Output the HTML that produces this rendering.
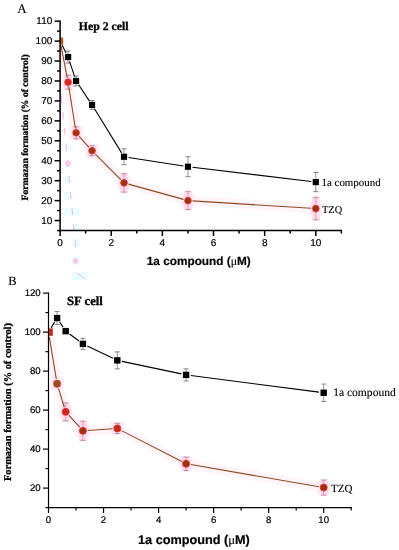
<!DOCTYPE html>
<html><head><meta charset="utf-8"><title>Formazan formation</title>
<style>
html,body{margin:0;padding:0;background:#fff}
svg{display:block;will-change:transform}
text{text-rendering:geometricPrecision}
.sans{font-family:"Liberation Sans",Arial,sans-serif;fill:#000;stroke:#000;stroke-width:0.2px}
.serif{font-family:"Liberation Serif","Times New Roman",serif;fill:#000}
.b{font-weight:bold}
.serif{stroke:#000;stroke-width:0.12px}
.serif.b{stroke-width:0.3px}
</style></head><body>
<svg width="399" height="550" viewBox="0 0 399 550">
<rect width="399" height="550" fill="#fff"/>
<rect x="64.5" y="144" width="7" height="7.5" fill="#e9feff"/>
<rect x="64.5" y="160.5" width="7" height="7" fill="#e9feff"/>
<rect x="64.5" y="176" width="7" height="7.5" fill="#e9feff"/>
<rect x="64" y="192" width="7.4" height="8" fill="#e9feff"/>
<rect x="64" y="208" width="15.5" height="8" fill="#e9feff"/>
<rect x="72" y="224.5" width="7.5" height="6.5" fill="#e9feff"/>
<rect x="72" y="239" width="7.5" height="8" fill="#e9feff"/>
<rect x="72" y="256.4" width="7.5" height="8" fill="#e9feff"/>
<rect x="72" y="272" width="15.7" height="8" fill="#e9feff"/>
<line x1="61.3" y1="96" x2="76" y2="250" stroke="#ff8fdc" stroke-width="1" opacity="0.7" stroke-dasharray="7 9.07"/>
<line x1="77" y1="273" x2="85.3" y2="279.3" stroke="#ff8fdc" stroke-width="1" opacity="0.7"/>
<circle cx="68" cy="163.5" r="2.7" fill="#ffc4ee"/>
<circle cx="75.5" cy="261" r="2.7" fill="#ffc4ee"/>
<polyline points="60.1,41.1 68.1,82.2 76.1,132.8 92.1,150.8 124.0,182.9 187.9,200.6 315.8,208.6" fill="none" stroke="#fff4fa" stroke-width="10" stroke-linejoin="round"/>
<rect x="61.6" y="75.7" width="13" height="13" fill="#ffebf5"/>
<rect x="64.1" y="74.2" width="8" height="16.0" fill="#ffdcf0"/>
<rect x="69.6" y="126.3" width="13" height="13" fill="#ffebf5"/>
<rect x="72.1" y="125.8" width="8" height="14.0" fill="#ffdcf0"/>
<rect x="85.6" y="144.3" width="13" height="13" fill="#ffebf5"/>
<rect x="88.1" y="144.8" width="8" height="12.0" fill="#ffdcf0"/>
<rect x="117.5" y="176.4" width="13" height="13" fill="#ffebf5"/>
<rect x="120.0" y="172.7" width="8" height="20.3" fill="#ffdcf0"/>
<rect x="181.4" y="194.1" width="13" height="13" fill="#ffebf5"/>
<rect x="183.9" y="190.6" width="8" height="19.9" fill="#ffdcf0"/>
<rect x="309.3" y="202.1" width="13" height="13" fill="#ffebf5"/>
<rect x="311.8" y="196.4" width="8" height="24.3" fill="#ffdcf0"/>
<line x1="68.09" y1="51.07" x2="68.09" y2="63.03" stroke="#777" stroke-width="0.8"/>
<line x1="65.59" y1="51.07" x2="70.59" y2="51.07" stroke="#777" stroke-width="0.9"/>
<line x1="65.59" y1="63.03" x2="70.59" y2="63.03" stroke="#777" stroke-width="0.9"/>
<line x1="76.08" y1="76.00" x2="76.08" y2="85.97" stroke="#777" stroke-width="0.8"/>
<line x1="73.58" y1="76.00" x2="78.58" y2="76.00" stroke="#777" stroke-width="0.9"/>
<line x1="73.58" y1="85.97" x2="78.58" y2="85.97" stroke="#777" stroke-width="0.9"/>
<line x1="92.06" y1="100.52" x2="92.06" y2="109.29" stroke="#777" stroke-width="0.8"/>
<line x1="89.56" y1="100.52" x2="94.56" y2="100.52" stroke="#777" stroke-width="0.9"/>
<line x1="89.56" y1="109.29" x2="94.56" y2="109.29" stroke="#777" stroke-width="0.9"/>
<line x1="124.03" y1="148.78" x2="124.03" y2="164.73" stroke="#777" stroke-width="0.8"/>
<line x1="121.53" y1="148.78" x2="126.53" y2="148.78" stroke="#777" stroke-width="0.9"/>
<line x1="121.53" y1="164.73" x2="126.53" y2="164.73" stroke="#777" stroke-width="0.9"/>
<line x1="187.95" y1="156.75" x2="187.95" y2="176.69" stroke="#777" stroke-width="0.8"/>
<line x1="185.45" y1="156.75" x2="190.45" y2="156.75" stroke="#777" stroke-width="0.9"/>
<line x1="185.45" y1="176.69" x2="190.45" y2="176.69" stroke="#777" stroke-width="0.9"/>
<line x1="315.80" y1="172.50" x2="315.80" y2="191.65" stroke="#777" stroke-width="0.8"/>
<line x1="313.30" y1="172.50" x2="318.30" y2="172.50" stroke="#777" stroke-width="0.9"/>
<line x1="313.30" y1="191.65" x2="318.30" y2="191.65" stroke="#777" stroke-width="0.9"/>
<line x1="68.09" y1="75.20" x2="68.09" y2="89.16" stroke="#f08098" stroke-width="0.8"/>
<line x1="65.59" y1="75.20" x2="70.59" y2="75.20" stroke="#b09090" stroke-width="0.9"/>
<line x1="65.59" y1="89.16" x2="70.59" y2="89.16" stroke="#b09090" stroke-width="0.9"/>
<line x1="76.08" y1="126.84" x2="76.08" y2="138.81" stroke="#f08098" stroke-width="0.8"/>
<line x1="73.58" y1="126.84" x2="78.58" y2="126.84" stroke="#b09090" stroke-width="0.9"/>
<line x1="73.58" y1="138.81" x2="78.58" y2="138.81" stroke="#b09090" stroke-width="0.9"/>
<line x1="92.06" y1="145.78" x2="92.06" y2="155.75" stroke="#f08098" stroke-width="0.8"/>
<line x1="89.56" y1="145.78" x2="94.56" y2="145.78" stroke="#b09090" stroke-width="0.9"/>
<line x1="89.56" y1="155.75" x2="94.56" y2="155.75" stroke="#b09090" stroke-width="0.9"/>
<line x1="124.03" y1="173.70" x2="124.03" y2="192.05" stroke="#f08098" stroke-width="0.8"/>
<line x1="121.53" y1="173.70" x2="126.53" y2="173.70" stroke="#b09090" stroke-width="0.9"/>
<line x1="121.53" y1="192.05" x2="126.53" y2="192.05" stroke="#b09090" stroke-width="0.9"/>
<line x1="187.95" y1="191.65" x2="187.95" y2="209.59" stroke="#f08098" stroke-width="0.8"/>
<line x1="185.45" y1="191.65" x2="190.45" y2="191.65" stroke="#b09090" stroke-width="0.9"/>
<line x1="185.45" y1="209.59" x2="190.45" y2="209.59" stroke="#b09090" stroke-width="0.9"/>
<line x1="315.80" y1="197.43" x2="315.80" y2="219.76" stroke="#f08098" stroke-width="0.8"/>
<line x1="313.30" y1="197.43" x2="318.30" y2="197.43" stroke="#b09090" stroke-width="0.9"/>
<line x1="313.30" y1="219.76" x2="318.30" y2="219.76" stroke="#b09090" stroke-width="0.9"/>
<line x1="62.16" y1="45.21" x2="66.03" y2="52.94" stroke="#000" stroke-width="1.1"/>
<line x1="69.55" y1="61.42" x2="74.62" y2="76.62" stroke="#000" stroke-width="1.1"/>
<line x1="78.64" y1="84.81" x2="89.51" y2="101.08" stroke="#000" stroke-width="1.1"/>
<line x1="94.48" y1="108.82" x2="121.61" y2="152.84" stroke="#000" stroke-width="1.1"/>
<line x1="128.57" y1="157.46" x2="183.40" y2="166.01" stroke="#000" stroke-width="1.1"/>
<line x1="192.52" y1="167.27" x2="311.23" y2="181.53" stroke="#000" stroke-width="1.1"/>
<line x1="60.98" y1="45.62" x2="67.21" y2="77.66" stroke="#91491f" stroke-width="1.1"/>
<line x1="68.81" y1="86.72" x2="75.36" y2="128.28" stroke="#91491f" stroke-width="1.1"/>
<line x1="79.14" y1="136.26" x2="89.00" y2="147.33" stroke="#91491f" stroke-width="1.1"/>
<line x1="95.31" y1="154.03" x2="120.78" y2="179.61" stroke="#91491f" stroke-width="1.1"/>
<line x1="128.46" y1="184.10" x2="183.52" y2="199.39" stroke="#91491f" stroke-width="1.1"/>
<line x1="192.54" y1="200.91" x2="311.21" y2="208.31" stroke="#91491f" stroke-width="1.1"/>
<rect x="64.99" y="53.95" width="6.2" height="6.2" fill="#000"/>
<rect x="72.98" y="77.88" width="6.2" height="6.2" fill="#000"/>
<rect x="88.96" y="101.81" width="6.2" height="6.2" fill="#000"/>
<rect x="120.93" y="153.65" width="6.2" height="6.2" fill="#000"/>
<rect x="184.85" y="163.62" width="6.2" height="6.2" fill="#000"/>
<rect x="312.70" y="178.98" width="6.2" height="6.2" fill="#000"/>
<circle cx="68.09" cy="82.18" r="3.3" fill="#dc2a1c" stroke="#e23030" stroke-width="0.9"/>
<circle cx="76.08" cy="132.82" r="3.3" fill="#9c3410" stroke="#e23030" stroke-width="0.9"/>
<circle cx="92.06" cy="150.77" r="3.3" fill="#9c3410" stroke="#e23030" stroke-width="0.9"/>
<circle cx="124.03" cy="182.87" r="3.3" fill="#9c3410" stroke="#e23030" stroke-width="0.9"/>
<circle cx="187.95" cy="200.62" r="3.3" fill="#9c3410" stroke="#e23030" stroke-width="0.9"/>
<circle cx="315.80" cy="208.60" r="3.3" fill="#9c3410" stroke="#e23030" stroke-width="0.9"/>
<rect x="60.10" y="37.50" width="3.10" height="7.2" fill="#b8591c"/>
<line x1="60.10" y1="20.41" x2="60.10" y2="231.28" stroke="#000" stroke-width="1.5"/>
<line x1="59.35" y1="230.53" x2="342.12" y2="230.53" stroke="#000" stroke-width="1.5"/>
<line x1="54.60" y1="220.56" x2="60.10" y2="220.56" stroke="#000" stroke-width="1.5"/>
<text x="52.30" y="223.74" font-size="10.0" text-anchor="end" class="sans">10</text>
<line x1="57.10" y1="210.59" x2="60.10" y2="210.59" stroke="#000" stroke-width="1.5"/>
<line x1="54.60" y1="200.62" x2="60.10" y2="200.62" stroke="#000" stroke-width="1.5"/>
<text x="52.30" y="203.80" font-size="10.0" text-anchor="end" class="sans">20</text>
<line x1="57.10" y1="190.65" x2="60.10" y2="190.65" stroke="#000" stroke-width="1.5"/>
<line x1="54.60" y1="180.68" x2="60.10" y2="180.68" stroke="#000" stroke-width="1.5"/>
<text x="52.30" y="183.86" font-size="10.0" text-anchor="end" class="sans">30</text>
<line x1="57.10" y1="170.71" x2="60.10" y2="170.71" stroke="#000" stroke-width="1.5"/>
<line x1="54.60" y1="160.74" x2="60.10" y2="160.74" stroke="#000" stroke-width="1.5"/>
<text x="52.30" y="163.92" font-size="10.0" text-anchor="end" class="sans">40</text>
<line x1="57.10" y1="150.77" x2="60.10" y2="150.77" stroke="#000" stroke-width="1.5"/>
<line x1="54.60" y1="140.80" x2="60.10" y2="140.80" stroke="#000" stroke-width="1.5"/>
<text x="52.30" y="143.98" font-size="10.0" text-anchor="end" class="sans">50</text>
<line x1="57.10" y1="130.83" x2="60.10" y2="130.83" stroke="#000" stroke-width="1.5"/>
<line x1="54.60" y1="120.86" x2="60.10" y2="120.86" stroke="#000" stroke-width="1.5"/>
<text x="52.30" y="124.04" font-size="10.0" text-anchor="end" class="sans">60</text>
<line x1="57.10" y1="110.89" x2="60.10" y2="110.89" stroke="#000" stroke-width="1.5"/>
<line x1="54.60" y1="100.92" x2="60.10" y2="100.92" stroke="#000" stroke-width="1.5"/>
<text x="52.30" y="104.10" font-size="10.0" text-anchor="end" class="sans">70</text>
<line x1="57.10" y1="90.95" x2="60.10" y2="90.95" stroke="#000" stroke-width="1.5"/>
<line x1="54.60" y1="80.98" x2="60.10" y2="80.98" stroke="#000" stroke-width="1.5"/>
<text x="52.30" y="84.16" font-size="10.0" text-anchor="end" class="sans">80</text>
<line x1="57.10" y1="71.01" x2="60.10" y2="71.01" stroke="#000" stroke-width="1.5"/>
<line x1="54.60" y1="61.04" x2="60.10" y2="61.04" stroke="#000" stroke-width="1.5"/>
<text x="52.30" y="64.22" font-size="10.0" text-anchor="end" class="sans">90</text>
<line x1="57.10" y1="51.07" x2="60.10" y2="51.07" stroke="#000" stroke-width="1.5"/>
<line x1="54.60" y1="41.10" x2="60.10" y2="41.10" stroke="#000" stroke-width="1.5"/>
<text x="52.30" y="44.28" font-size="10.0" text-anchor="end" class="sans">100</text>
<line x1="57.10" y1="31.13" x2="60.10" y2="31.13" stroke="#000" stroke-width="1.5"/>
<line x1="54.60" y1="21.16" x2="60.10" y2="21.16" stroke="#000" stroke-width="1.5"/>
<text x="52.30" y="24.34" font-size="10.0" text-anchor="end" class="sans">110</text>
<line x1="57.10" y1="230.53" x2="60.10" y2="230.53" stroke="#000" stroke-width="1.5"/>
<line x1="60.10" y1="230.53" x2="60.10" y2="236.03" stroke="#000" stroke-width="1.5"/>
<text x="60.10" y="246.13" font-size="10.0" text-anchor="middle" class="sans">0</text>
<line x1="85.67" y1="230.53" x2="85.67" y2="233.53" stroke="#000" stroke-width="1.5"/>
<line x1="111.24" y1="230.53" x2="111.24" y2="236.03" stroke="#000" stroke-width="1.5"/>
<text x="111.24" y="246.13" font-size="10.0" text-anchor="middle" class="sans">2</text>
<line x1="136.81" y1="230.53" x2="136.81" y2="233.53" stroke="#000" stroke-width="1.5"/>
<line x1="162.38" y1="230.53" x2="162.38" y2="236.03" stroke="#000" stroke-width="1.5"/>
<text x="162.38" y="246.13" font-size="10.0" text-anchor="middle" class="sans">4</text>
<line x1="187.95" y1="230.53" x2="187.95" y2="233.53" stroke="#000" stroke-width="1.5"/>
<line x1="213.52" y1="230.53" x2="213.52" y2="236.03" stroke="#000" stroke-width="1.5"/>
<text x="213.52" y="246.13" font-size="10.0" text-anchor="middle" class="sans">6</text>
<line x1="239.09" y1="230.53" x2="239.09" y2="233.53" stroke="#000" stroke-width="1.5"/>
<line x1="264.66" y1="230.53" x2="264.66" y2="236.03" stroke="#000" stroke-width="1.5"/>
<text x="264.66" y="246.13" font-size="10.0" text-anchor="middle" class="sans">8</text>
<line x1="290.23" y1="230.53" x2="290.23" y2="233.53" stroke="#000" stroke-width="1.5"/>
<line x1="315.80" y1="230.53" x2="315.80" y2="236.03" stroke="#000" stroke-width="1.5"/>
<text x="315.80" y="246.13" font-size="10.0" text-anchor="middle" class="sans">10</text>
<line x1="341.37" y1="230.53" x2="341.37" y2="233.53" stroke="#000" stroke-width="1.5"/>
<polyline points="48.5,332.1 57.1,383.8 65.7,411.9 82.9,430.8 117.3,428.4 186.1,463.7 323.7,487.6" fill="none" stroke="#fff4fa" stroke-width="10" stroke-linejoin="round"/>
<rect x="50.6" y="377.3" width="13" height="13" fill="#ffebf5"/>
<rect x="53.1" y="379.9" width="8" height="7.8" fill="#ffdcf0"/>
<rect x="59.2" y="405.4" width="13" height="13" fill="#ffebf5"/>
<rect x="61.7" y="401.9" width="8" height="19.9" fill="#ffdcf0"/>
<rect x="76.4" y="424.3" width="13" height="13" fill="#ffebf5"/>
<rect x="78.9" y="420.2" width="8" height="21.1" fill="#ffdcf0"/>
<rect x="110.8" y="421.9" width="13" height="13" fill="#ffebf5"/>
<rect x="113.3" y="422.4" width="8" height="12.1" fill="#ffdcf0"/>
<rect x="179.6" y="457.2" width="13" height="13" fill="#ffebf5"/>
<rect x="182.1" y="456.1" width="8" height="15.3" fill="#ffdcf0"/>
<rect x="317.2" y="481.1" width="13" height="13" fill="#ffebf5"/>
<rect x="319.7" y="479.1" width="8" height="17.0" fill="#ffdcf0"/>
<line x1="57.10" y1="311.57" x2="57.10" y2="324.55" stroke="#777" stroke-width="0.8"/>
<line x1="54.60" y1="311.57" x2="59.60" y2="311.57" stroke="#777" stroke-width="0.9"/>
<line x1="54.60" y1="324.55" x2="59.60" y2="324.55" stroke="#777" stroke-width="0.9"/>
<line x1="65.70" y1="329.18" x2="65.70" y2="333.08" stroke="#777" stroke-width="0.8"/>
<line x1="63.20" y1="329.18" x2="68.20" y2="329.18" stroke="#777" stroke-width="0.9"/>
<line x1="63.20" y1="333.08" x2="68.20" y2="333.08" stroke="#777" stroke-width="0.9"/>
<line x1="82.90" y1="338.44" x2="82.90" y2="349.36" stroke="#777" stroke-width="0.8"/>
<line x1="80.40" y1="338.44" x2="85.40" y2="338.44" stroke="#777" stroke-width="0.9"/>
<line x1="80.40" y1="349.36" x2="85.40" y2="349.36" stroke="#777" stroke-width="0.9"/>
<line x1="117.30" y1="351.87" x2="117.30" y2="368.88" stroke="#777" stroke-width="0.8"/>
<line x1="114.80" y1="351.87" x2="119.80" y2="351.87" stroke="#777" stroke-width="0.9"/>
<line x1="114.80" y1="368.88" x2="119.80" y2="368.88" stroke="#777" stroke-width="0.9"/>
<line x1="186.10" y1="368.86" x2="186.10" y2="380.95" stroke="#777" stroke-width="0.8"/>
<line x1="183.60" y1="368.86" x2="188.60" y2="368.86" stroke="#777" stroke-width="0.9"/>
<line x1="183.60" y1="380.95" x2="188.60" y2="380.95" stroke="#777" stroke-width="0.9"/>
<line x1="323.70" y1="384.05" x2="323.70" y2="401.44" stroke="#777" stroke-width="0.8"/>
<line x1="321.20" y1="384.05" x2="326.20" y2="384.05" stroke="#777" stroke-width="0.9"/>
<line x1="321.20" y1="401.44" x2="326.20" y2="401.44" stroke="#777" stroke-width="0.9"/>
<line x1="57.10" y1="380.85" x2="57.10" y2="386.70" stroke="#f08098" stroke-width="0.8"/>
<line x1="54.60" y1="380.85" x2="59.60" y2="380.85" stroke="#b09090" stroke-width="0.9"/>
<line x1="54.60" y1="386.70" x2="59.60" y2="386.70" stroke="#b09090" stroke-width="0.9"/>
<line x1="65.70" y1="402.88" x2="65.70" y2="420.83" stroke="#f08098" stroke-width="0.8"/>
<line x1="63.20" y1="402.88" x2="68.20" y2="402.88" stroke="#b09090" stroke-width="0.9"/>
<line x1="63.20" y1="420.83" x2="68.20" y2="420.83" stroke="#b09090" stroke-width="0.9"/>
<line x1="82.90" y1="421.22" x2="82.90" y2="440.33" stroke="#f08098" stroke-width="0.8"/>
<line x1="80.40" y1="421.22" x2="85.40" y2="421.22" stroke="#b09090" stroke-width="0.9"/>
<line x1="80.40" y1="440.33" x2="85.40" y2="440.33" stroke="#b09090" stroke-width="0.9"/>
<line x1="117.30" y1="423.36" x2="117.30" y2="433.50" stroke="#f08098" stroke-width="0.8"/>
<line x1="114.80" y1="423.36" x2="119.80" y2="423.36" stroke="#b09090" stroke-width="0.9"/>
<line x1="114.80" y1="433.50" x2="119.80" y2="433.50" stroke="#b09090" stroke-width="0.9"/>
<line x1="186.10" y1="457.10" x2="186.10" y2="470.36" stroke="#f08098" stroke-width="0.8"/>
<line x1="183.60" y1="457.10" x2="188.60" y2="457.10" stroke="#b09090" stroke-width="0.9"/>
<line x1="183.60" y1="470.36" x2="188.60" y2="470.36" stroke="#b09090" stroke-width="0.9"/>
<line x1="323.70" y1="480.09" x2="323.70" y2="495.10" stroke="#f08098" stroke-width="0.8"/>
<line x1="321.20" y1="480.09" x2="326.20" y2="480.09" stroke="#b09090" stroke-width="0.9"/>
<line x1="321.20" y1="495.10" x2="326.20" y2="495.10" stroke="#b09090" stroke-width="0.9"/>
<line x1="51.01" y1="328.01" x2="54.59" y2="322.15" stroke="#000" stroke-width="1.1"/>
<line x1="59.74" y1="322.07" x2="63.06" y2="327.12" stroke="#000" stroke-width="1.1"/>
<line x1="69.55" y1="333.99" x2="79.05" y2="341.04" stroke="#000" stroke-width="1.1"/>
<line x1="87.23" y1="345.97" x2="112.97" y2="358.30" stroke="#000" stroke-width="1.1"/>
<line x1="122.00" y1="361.37" x2="181.40" y2="373.91" stroke="#000" stroke-width="1.1"/>
<line x1="190.86" y1="375.52" x2="318.94" y2="392.13" stroke="#000" stroke-width="1.1"/>
<line x1="49.29" y1="336.83" x2="56.31" y2="379.04" stroke="#91491f" stroke-width="1.1"/>
<line x1="58.51" y1="388.36" x2="64.29" y2="407.27" stroke="#91491f" stroke-width="1.1"/>
<line x1="68.93" y1="415.41" x2="79.67" y2="427.22" stroke="#91491f" stroke-width="1.1"/>
<line x1="87.69" y1="430.44" x2="112.51" y2="428.76" stroke="#91491f" stroke-width="1.1"/>
<line x1="121.57" y1="430.62" x2="181.83" y2="461.53" stroke="#91491f" stroke-width="1.1"/>
<line x1="190.83" y1="464.55" x2="318.97" y2="486.77" stroke="#91491f" stroke-width="1.1"/>
<rect x="53.90" y="314.86" width="6.4" height="6.4" fill="#000"/>
<rect x="62.50" y="327.93" width="6.4" height="6.4" fill="#000"/>
<rect x="79.70" y="340.70" width="6.4" height="6.4" fill="#000"/>
<rect x="114.10" y="357.18" width="6.4" height="6.4" fill="#000"/>
<rect x="182.90" y="371.70" width="6.4" height="6.4" fill="#000"/>
<rect x="320.50" y="389.55" width="6.4" height="6.4" fill="#000"/>
<circle cx="57.10" cy="383.78" r="3.5" fill="#8c5418" stroke="#e23030" stroke-width="0.9"/>
<circle cx="65.70" cy="411.86" r="3.5" fill="#cf2418" stroke="#e23030" stroke-width="0.9"/>
<circle cx="82.90" cy="430.77" r="3.5" fill="#9c3410" stroke="#e23030" stroke-width="0.9"/>
<circle cx="117.30" cy="428.43" r="3.5" fill="#c42a14" stroke="#e23030" stroke-width="0.9"/>
<circle cx="186.10" cy="463.73" r="3.5" fill="#9c3410" stroke="#e23030" stroke-width="0.9"/>
<circle cx="323.70" cy="487.59" r="3.5" fill="#9c3410" stroke="#e23030" stroke-width="0.9"/>
<rect x="48.50" y="328.40" width="4.30" height="7.4" fill="#c2300f"/>
<line x1="48.50" y1="292.50" x2="48.50" y2="508.20" stroke="#000" stroke-width="1.2"/>
<line x1="47.90" y1="507.60" x2="351.82" y2="507.60" stroke="#000" stroke-width="1.2"/>
<line x1="43.00" y1="488.10" x2="48.50" y2="488.10" stroke="#000" stroke-width="1.2"/>
<text x="40.70" y="491.14" font-size="9.6" text-anchor="end" class="sans">20</text>
<line x1="45.50" y1="468.60" x2="48.50" y2="468.60" stroke="#000" stroke-width="1.2"/>
<line x1="43.00" y1="449.10" x2="48.50" y2="449.10" stroke="#000" stroke-width="1.2"/>
<text x="40.70" y="452.14" font-size="9.6" text-anchor="end" class="sans">40</text>
<line x1="45.50" y1="429.60" x2="48.50" y2="429.60" stroke="#000" stroke-width="1.2"/>
<line x1="43.00" y1="410.10" x2="48.50" y2="410.10" stroke="#000" stroke-width="1.2"/>
<text x="40.70" y="413.14" font-size="9.6" text-anchor="end" class="sans">60</text>
<line x1="45.50" y1="390.60" x2="48.50" y2="390.60" stroke="#000" stroke-width="1.2"/>
<line x1="43.00" y1="371.10" x2="48.50" y2="371.10" stroke="#000" stroke-width="1.2"/>
<text x="40.70" y="374.14" font-size="9.6" text-anchor="end" class="sans">80</text>
<line x1="45.50" y1="351.60" x2="48.50" y2="351.60" stroke="#000" stroke-width="1.2"/>
<line x1="43.00" y1="332.10" x2="48.50" y2="332.10" stroke="#000" stroke-width="1.2"/>
<text x="40.70" y="335.14" font-size="9.6" text-anchor="end" class="sans">100</text>
<line x1="45.50" y1="312.60" x2="48.50" y2="312.60" stroke="#000" stroke-width="1.2"/>
<line x1="43.00" y1="293.10" x2="48.50" y2="293.10" stroke="#000" stroke-width="1.2"/>
<text x="40.70" y="296.14" font-size="9.6" text-anchor="end" class="sans">120</text>
<line x1="45.50" y1="507.60" x2="48.50" y2="507.60" stroke="#000" stroke-width="1.2"/>
<line x1="48.50" y1="507.60" x2="48.50" y2="513.10" stroke="#000" stroke-width="1.2"/>
<text x="48.50" y="523.40" font-size="9.6" text-anchor="middle" class="sans">0</text>
<line x1="76.02" y1="507.60" x2="76.02" y2="510.60" stroke="#000" stroke-width="1.2"/>
<line x1="103.54" y1="507.60" x2="103.54" y2="513.10" stroke="#000" stroke-width="1.2"/>
<text x="103.54" y="523.40" font-size="9.6" text-anchor="middle" class="sans">2</text>
<line x1="131.06" y1="507.60" x2="131.06" y2="510.60" stroke="#000" stroke-width="1.2"/>
<line x1="158.58" y1="507.60" x2="158.58" y2="513.10" stroke="#000" stroke-width="1.2"/>
<text x="158.58" y="523.40" font-size="9.6" text-anchor="middle" class="sans">4</text>
<line x1="186.10" y1="507.60" x2="186.10" y2="510.60" stroke="#000" stroke-width="1.2"/>
<line x1="213.62" y1="507.60" x2="213.62" y2="513.10" stroke="#000" stroke-width="1.2"/>
<text x="213.62" y="523.40" font-size="9.6" text-anchor="middle" class="sans">6</text>
<line x1="241.14" y1="507.60" x2="241.14" y2="510.60" stroke="#000" stroke-width="1.2"/>
<line x1="268.66" y1="507.60" x2="268.66" y2="513.10" stroke="#000" stroke-width="1.2"/>
<text x="268.66" y="523.40" font-size="9.6" text-anchor="middle" class="sans">8</text>
<line x1="296.18" y1="507.60" x2="296.18" y2="510.60" stroke="#000" stroke-width="1.2"/>
<line x1="323.70" y1="507.60" x2="323.70" y2="513.10" stroke="#000" stroke-width="1.2"/>
<text x="323.70" y="523.40" font-size="9.6" text-anchor="middle" class="sans">10</text>
<line x1="351.22" y1="507.60" x2="351.22" y2="510.60" stroke="#000" stroke-width="1.2"/>
<text x="17.3" y="13.2" font-size="13" class="serif">A</text>
<text x="8.2" y="285.4" font-size="12.5" class="serif">B</text>
<text x="78.8" y="30" font-size="11.8" class="serif b">Hep 2 cell</text>
<text x="67" y="305" font-size="12.7" class="serif b">SF cell</text>
<text x="321.6" y="186.4" font-size="10.9" class="serif">1a compound</text>
<text x="322" y="212.6" font-size="10.4" class="serif">TZQ</text>
<text x="333.2" y="396.3" font-size="11.55" class="serif">1a compound</text>
<text x="331" y="491.6" font-size="11.0" class="serif">TZQ</text>
<text x="146.8" y="265.3" font-size="11.8" class="sans b">1a compound (<tspan class="serif" font-weight="normal" stroke-width="0.45">μ</tspan>M)</text>
<text x="138" y="544.2" font-size="12.7" class="sans b">1a compound (<tspan class="serif" font-weight="normal" stroke-width="0.45">μ</tspan>M)</text>
<text transform="translate(27.5,200.4) rotate(-90)" font-size="9.62" class="serif b">Formazan formation (% of control)</text>
<text transform="translate(10.9,481) rotate(-90)" font-size="10.4" class="serif b">Formazan formation (% of control)</text>
</svg>
</body></html>
